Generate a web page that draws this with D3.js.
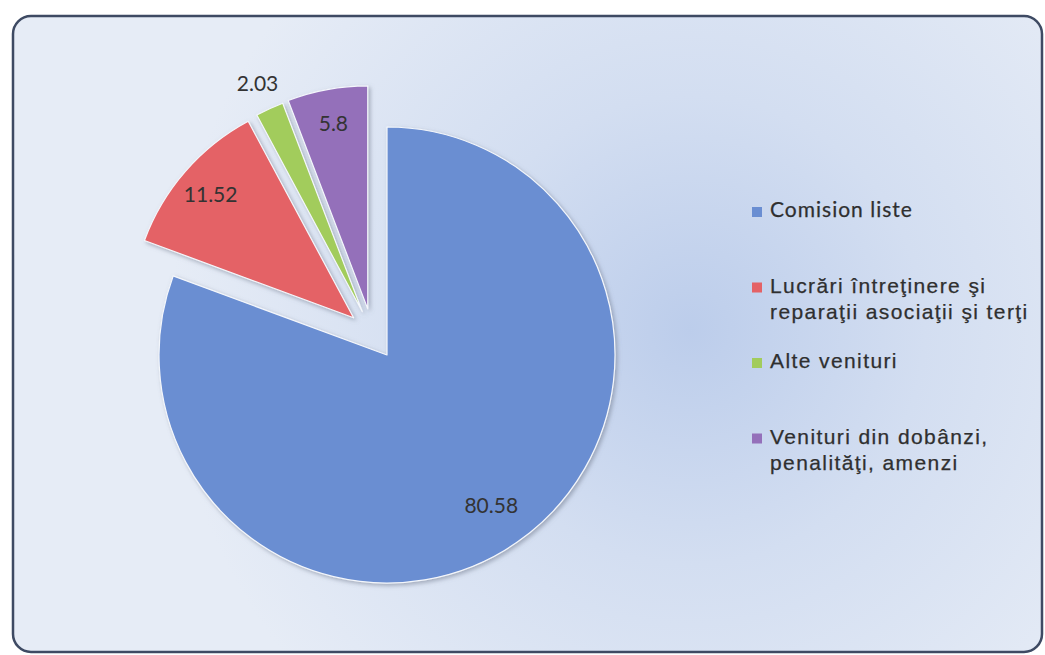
<!DOCTYPE html>
<html>
<head>
<meta charset="utf-8">
<script src="https://cdn.jsdelivr.net/npm/d3@7"></script>
<style>
  html, body { margin: 0; padding: 0; background: #ffffff; }
  svg { display: block; }
</style>
</head>
<body>
<div id="chart"></div>
<script>
(function () {
  'use strict';

  // ── Data ──────────────────────────────────────────────────────────────────
  const CATEGORIES = [
    ['Comision liste'],
    ['Lucrări întreţinere şi', 'reparaţii asociaţii şi terţi'],
    ['Alte venituri'],
    ['Venituri din dobânzi,', 'penalităţi, amenzi']
  ];
  const VALUES = [80.58, 11.52, 2.03, 5.8];
  const LABELS = ['80.58', '11.52', '2.03', '5.8'];
  const EXPLODED = [false, true, true, true];

  const COLORS = ['#6a8ed2', '#e46266', '#a2cc5c', '#9470ba'];

  // ── Layout ────────────────────────────────────────────────────────────────
  const width = 1045;
  const height = 655;
  const cx = 387, cy = 355;
  const rMain = 228;
  const rExploded = 223;
  const explode = 50;

  const svg = d3.select('#chart')
    .append('svg')
    .attr('width', width)
    .attr('height', height)
    .attr('viewBox', `0 0 ${width} ${height}`);

  const defs = svg.append('defs');
  const grad = defs.append('radialGradient')
    .attr('id', 'bg')
    .attr('gradientUnits', 'userSpaceOnUse')
    .attr('cx', 690).attr('cy', 330).attr('r', 520);
  grad.append('stop').attr('offset', '0%').attr('stop-color', '#bccdeb');
  grad.append('stop').attr('offset', '45%').attr('stop-color', '#d3def1');
  grad.append('stop').attr('offset', '100%').attr('stop-color', '#e6ecf6');

  const shadow = defs.append('filter')
    .attr('id', 'shadow')
    .attr('x', '-20%').attr('y', '-20%')
    .attr('width', '140%').attr('height', '140%');
  shadow.append('feDropShadow')
    .attr('dx', 2).attr('dy', 2)
    .attr('stdDeviation', 2)
    .attr('flood-color', '#6f7a8c')
    .attr('flood-opacity', 0.55);

  // Chart area frame
  svg.append('rect')
    .attr('x', 13).attr('y', 16)
    .attr('width', 1029).attr('height', 636)
    .attr('rx', 18).attr('ry', 18)
    .attr('fill', 'url(#bg)')
    .attr('stroke', '#3e4a63')
    .attr('stroke-width', 2.5);

  // ── Pie ───────────────────────────────────────────────────────────────────
  const pie = d3.pie().sort(null).value(d => d)
    .startAngle(0).endAngle(2 * Math.PI);
  const arcs = pie(VALUES);
  const total = d3.sum(VALUES);

  // exploded slices are pulled out roughly together: direction is halfway
  // between the slice's own bisector and the bisector of the exploded group
  const exArcs = arcs.filter((d, i) => EXPLODED[i]);
  const groupMid = (d3.min(exArcs, d => d.startAngle) + d3.max(exArcs, d => d.endAngle)) / 2;

  const g = svg.append('g').attr('transform', `translate(${cx},${cy})`);

  const offset = (d, i) => {
    if (!EXPLODED[i]) return [0, 0];
    const mid = ((d.startAngle + d.endAngle) / 2 + groupMid) / 2;
    return [Math.sin(mid) * explode, -Math.cos(mid) * explode];
  };
  const radius = i => EXPLODED[i] ? rExploded : rMain;

  const slices = g.selectAll('.slice')
    .data(arcs)
    .enter()
    .append('g')
    .attr('class', 'slice')
    .attr('transform', (d, i) => `translate(${offset(d, i)})`);

  slices.append('path')
    .attr('d', (d, i) => d3.arc().innerRadius(0).outerRadius(radius(i))(d))
    .attr('fill', (d, i) => COLORS[i])
    .attr('stroke', '#f4f7fc')
    .attr('stroke-width', 1.2)
    .attr('stroke-linejoin', 'round')
    .attr('filter', 'url(#shadow)');

  // Data labels: inside the slice, outside for very thin ones
  slices.append('text')
    .each(function (d, i) {
      const share = d.value / total;
      const k = share < 0.03 ? 1.13 : (EXPLODED[i] ? 0.85 : 0.8);
      const lr = radius(i) * k;
      const [x, y] = d3.arc().innerRadius(lr).outerRadius(lr).centroid(d);
      d3.select(this).attr('x', x).attr('y', y);
    })
    .attr('text-anchor', 'middle')
    .attr('dominant-baseline', 'central')
    .attr('font-family', 'Lato, "Open Sans", sans-serif')
    .attr('font-size', 21)
    .attr('fill', '#333333')
    .text((d, i) => LABELS[i]);

  // ── Legend ────────────────────────────────────────────────────────────────
  const legend = svg.append('g').attr('transform', 'translate(752,217)');
  const itemStep = 75.5;
  const lineStep = 26;

  CATEGORIES.forEach((lines, i) => {
    const item = legend.append('g').attr('transform', `translate(0,${i * itemStep})`);
    item.append('rect')
      .attr('x', 0).attr('y', -10)
      .attr('width', 10).attr('height', 10)
      .attr('fill', COLORS[i]);
    const text = item.append('text')
      .attr('x', 18).attr('y', 0)
      .attr('font-family', i === 0 ? 'Lato, sans-serif' : '"Liberation Sans", Arial, sans-serif')
      .attr('font-size', 21)
      .attr('letter-spacing', i === 0 ? 1 : 1.4)
      .attr('fill', '#2f2f2f')
      .attr('stroke', '#2f2f2f')
      .attr('stroke-width', 0.25);
    lines.forEach((ln, j) => {
      text.append('tspan')
        .attr('x', 18)
        .attr('y', j * lineStep)
        .text(ln);
    });
  });
})();
</script>
</body>
</html>
